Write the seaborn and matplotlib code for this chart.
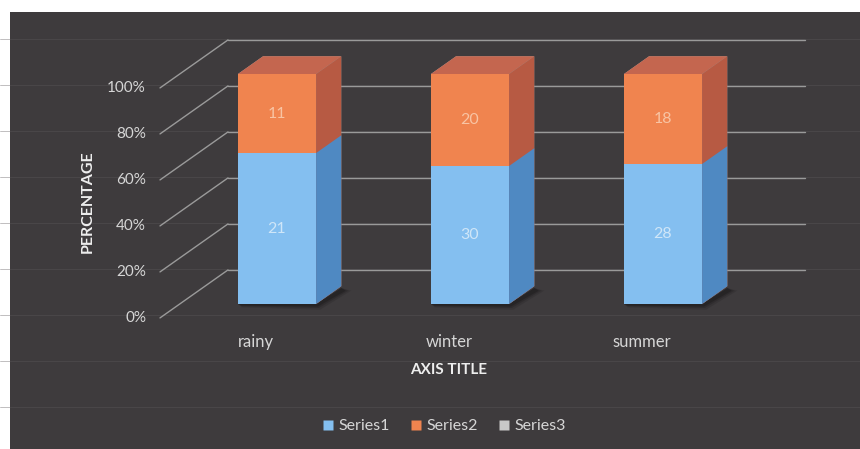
import matplotlib
matplotlib.use("Agg")
import matplotlib.pyplot as plt
import seaborn as sns
import numpy as np
import pandas as pd
from matplotlib.patches import Polygon, Rectangle
from matplotlib.lines import Line2D

# ---------------- data ----------------
categories = ["rainy", "winter", "summer"]
series1 = [21, 30, 28]
series2 = [11, 20, 18]
series3 = [0, 0, 0]
series_names = ["Series1", "Series2", "Series3"]
y_ticks = [0, 20, 40, 60, 80, 100]
y_tick_labels = ["0%", "20%", "40%", "60%", "80%", "100%"]
x_title = "AXIS TITLE"
y_title = "PERCENTAGE"

# ---------------- style ----------------
BG = "#3e3b3d"
GRID = "#9a9a9a"
TXT = "#d6d6d6"
BLUE_FRONT, BLUE_SIDE = "#84bff0", "#4f89c2"
ORANGE_FRONT, ORANGE_SIDE, ORANGE_TOP = "#f0844f", "#b75a43", "#c4664f"
GRAY = "#c8c8c8"

sns.set_theme(style="white")
plt.rcParams['font.family'] = ['Lato', 'DejaVu Sans']

s1 = np.array(series1, float)
s2 = np.array(series2, float)
s3 = np.array(series3, float)
tot = s1 + s2 + s3
df = pd.DataFrame({
    "category": categories,
    "p1": 100 * s1 / tot,
    "p12": 100 * (s1 + s2) / tot,
    "p123": 100 * (s1 + s2 + s3) / tot,
})

W, H = 860, 449
fig = plt.figure(figsize=(W / 100, H / 100), dpi=100)
fig.patch.set_facecolor("white")
fig.add_artist(Rectangle((10 / W, 0), 1 - 10 / W, 1 - 12 / H, transform=fig.transFigure,
                         facecolor=BG, edgecolor="none", zorder=0))
ax = fig.add_axes([0, 0, 1, 1])
ax.set_facecolor("none")

# layout scale (pixels per unit)
PXX, X0 = 193.0, 277.0   # x: category unit
PXY, Y0 = 2.3, 304.0     # y: percent unit
def dx(px): return px / PXX
def dy(px): return px / PXY
def X(px): return (px - X0) / PXX
def Y(py): return (Y0 - py) / PXY

# depth vectors
full_dx, full_dy = dx(68), dy(48)
front_off = 0.29
bar_depth = 0.37

# bars (front faces) via seaborn
sns.barplot(data=df, x="category", y="p123", color=GRAY, width=0.405, saturation=1,
            ax=ax, linewidth=0, zorder=3)
sns.barplot(data=df, x="category", y="p12", color=ORANGE_FRONT, width=0.405, saturation=1,
            ax=ax, linewidth=0, zorder=3)
sns.barplot(data=df, x="category", y="p1", color=BLUE_FRONT, width=0.405, saturation=1,
            ax=ax, linewidth=0, zorder=3)

n = len(categories)
patches = list(ax.patches)
gray_p, orange_p, blue_p = patches[:n], patches[n:2 * n], patches[2 * n:3 * n]

bdx, bdy = bar_depth * full_dx, bar_depth * full_dy
def side(p, color, z):
    x0, y0, w, h = p.get_x(), p.get_y(), p.get_width(), p.get_height()
    xr = x0 + w
    ax.add_patch(Polygon([(xr, y0), (xr + bdx, y0 + bdy), (xr + bdx, y0 + h + bdy), (xr, y0 + h)],
                         closed=True, facecolor=color, edgecolor="none", zorder=z))
def top(p, color, z):
    x0, y0, w, h = p.get_x(), p.get_y(), p.get_width(), p.get_height()
    yt = y0 + h
    ax.add_patch(Polygon([(x0, yt), (x0 + w, yt), (x0 + w + bdx, yt + bdy), (x0 + bdx, yt + bdy)],
                         closed=True, facecolor=color, edgecolor="none", zorder=z))
def shadow(p):
    x0, w = p.get_x(), p.get_width()
    for k, a in [(1.0, 0.10), (0.7, 0.14), (0.45, 0.18)]:
        ax.add_patch(Polygon([(x0 + w * 0.05, -1.5 * k), (x0 + w + dx(4) * k, -2.5 * k),
                              (x0 + w + bdx + dx(10) * k, bdy * 0.75),
                              (x0 + w + bdx, bdy * 0.9), (x0 + w, 0), (x0, 0)],
                             closed=True, facecolor="black", edgecolor="none", alpha=a, zorder=2))

for i in range(n):
    shadow(blue_p[i])
    side(gray_p[i], "#9a9a9a", 3.1)
    side(orange_p[i], ORANGE_SIDE, 3.2)
    side(blue_p[i], BLUE_SIDE, 3.3)
    top(gray_p[i], "#a8a8a8", 3.1)
    top(orange_p[i], ORANGE_TOP, 3.2)

# data labels
for i in range(n):
    cx = blue_p[i].get_x() + blue_p[i].get_width() / 2
    ax.text(cx, df["p1"][i] / 2, f"{series1[i]:g}", color="#cfe6f8", ha="center", va="center",
            fontsize=11.5, zorder=5)
    ax.text(cx, (df["p1"][i] + df["p12"][i]) / 2, f"{series2[i]:g}", color="#f8c4a4",
            ha="center", va="center", fontsize=11.5, zorder=5)

# faint full-width scan lines
back_y0 = -front_off * full_dy + full_dy
for t in range(-60, 120, 20):
    ax.axhline(t + back_y0 + dy(1), color="#5c585a", lw=0.6, alpha=0.45, zorder=1)

# gridlines: back wall + diagonals + tick labels
fx0 = X(160)
for t, lab in zip(y_ticks, y_tick_labels):
    yf = t - front_off * full_dy
    yb = yf + full_dy
    ax.plot([fx0, fx0 + full_dx], [yf, yb], color=GRID, lw=1.0, zorder=1.5)
    ax.plot([fx0 + full_dx, X(805)], [yb, yb], color=GRID, lw=1.0, zorder=1.5)
    ax.text(X(146), yf, lab, ha="right", va="center", color=TXT, fontsize=11)

# category labels
for i, c in enumerate(categories):
    ax.text(i + dx(-21), Y(342), c, ha="center", va="center", color=TXT, fontsize=12)

ax.text(X(449), Y(370), x_title, ha="center", va="center", color="#eeeeee",
        fontsize=11, fontweight="bold")
ax.text(X(88), Y(202), y_title, ha="center", va="center", color="#eeeeee",
        fontsize=11.5, fontweight="bold", rotation=90)

# legend
handles = [Line2D([], [], marker="s", ls="none", markersize=6.5, markerfacecolor=c,
                  markeredgecolor="none")
           for c in (BLUE_FRONT, ORANGE_FRONT, GRAY)]
leg = ax.legend(handles, series_names, loc="center", bbox_to_anchor=(444 / W, 1 - 426 / H),
                bbox_transform=fig.transFigure, ncol=3, frameon=False, fontsize=11.5,
                handlelength=0.7, handletextpad=0.3, columnspacing=1.3, labelcolor=TXT)

ax.set_xlim(X(0), X(W))
ax.set_ylim(Y(H), Y(0))
ax.set_axis_off()

fig.savefig("out.png", dpi=100, facecolor=fig.get_facecolor())
